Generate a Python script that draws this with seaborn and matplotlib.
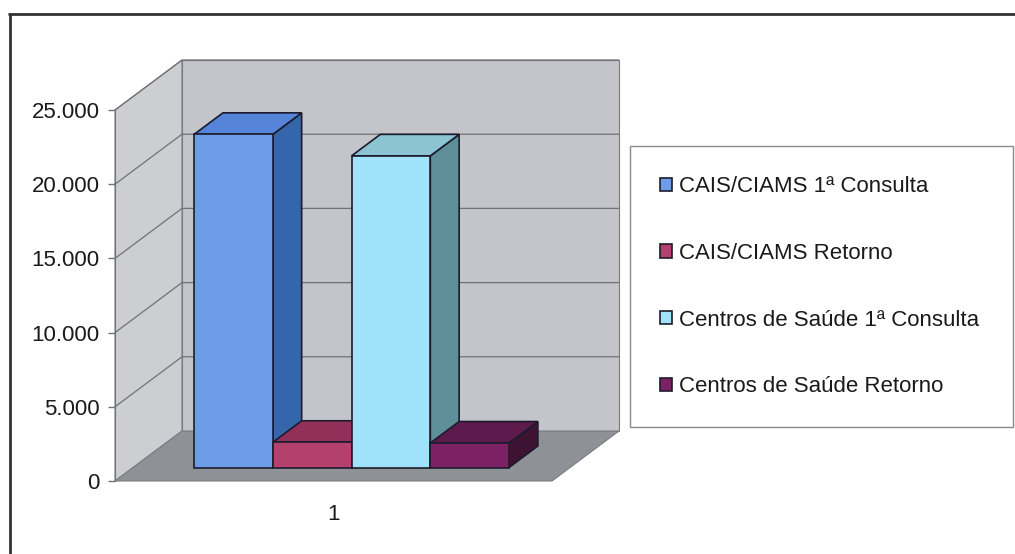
import pandas as pd
import matplotlib.pyplot as plt
import matplotlib.transforms as mtransforms
from matplotlib.patches import Polygon
from matplotlib.lines import Line2D
from matplotlib.ticker import FuncFormatter
import seaborn as sns

# data
series = ["CAIS/CIAMS 1ª Consulta", "CAIS/CIAMS Retorno",
          "Centros de Saúde 1ª Consulta", "Centros de Saúde Retorno"]
values = [22450, 1700, 21000, 1650]
group = ["1", "1", "1", "1"]
y_ticks = [0, 5000, 10000, 15000, 20000, 25000]

front_colors = ["#6d9de8", "#b4406e", "#a0e2fa", "#7c2264"]
top_colors = ["#5584d8", "#92305a", "#8cc4d4", "#5e1a4c"]
side_colors = ["#3565aa", "#6e2040", "#5f8f98", "#3e1232"]

df = pd.DataFrame({"grupo": group, "serie": series, "valor": values})

sns.set_style("white")
plt.rcParams['font.family'] = ['Liberation Sans', 'DejaVu Sans']

fig = plt.figure(figsize=(10.15, 5.54), dpi=100)
ax = fig.add_axes([115 / 1015, 1 - 481 / 554, 437 / 1015, 371 / 554])

sns.barplot(data=df, x="grupo", y="valor", hue="serie", hue_order=series,
            palette=front_colors, width=0.8, edgecolor="#1c1c2c",
            linewidth=1.2, saturation=1, ax=ax)

ax.set_xlim(-0.555, 0.555)
ax.set_ylim(0, 25000)

# depth vector (pixels) converted to data units
p0 = ax.transData.transform((0, 0))
p1 = ax.transData.transform((1, 1))
sx, sy = p1[0] - p0[0], p1[1] - p0[1]
DX, DY = 67 / sx, 50 / sy
x0, x1 = ax.get_xlim()
top = ax.get_ylim()[1]

# walls and floor
wall_kw = dict(edgecolor="#7a7c80", linewidth=0.8, clip_on=False)
ax.add_patch(Polygon([(x0, 0), (x0, top), (x0 + DX, top + DY), (x0 + DX, DY)],
                     facecolor="#cdced2", zorder=0.5, **wall_kw))
ax.add_patch(Polygon([(x0 + DX, DY), (x0 + DX, top + DY), (x1 + DX, top + DY), (x1 + DX, DY)],
                     facecolor="#c3c5cb", zorder=0.5, **wall_kw))
ax.add_patch(Polygon([(x0, 0), (x1, 0), (x1 + DX, DY), (x0 + DX, DY)],
                     facecolor="#8e9296", zorder=0.6, **wall_kw))

for v in y_ticks[1:]:
    ax.plot([x0, x0 + DX, x1 + DX], [v, v + DY, v + DY], color="#6f7175",
            lw=0.9, zorder=0.7, clip_on=False)

# give the bars depth
tf, tb = 0.27, 0.43
off = mtransforms.Affine2D().translate(tf * DX, tf * DY) + ax.transData
bx, by = tb * DX, tb * DY
for i, bar in enumerate(ax.patches[:len(series)]):
    x, w, h = bar.get_x(), bar.get_width(), bar.get_height()
    fx, fy = x + tf * DX, tf * DY
    z = 2 + i * 0.1
    ax.add_patch(Polygon([(fx + w, fy), (fx + w, fy + h), (fx + w + bx, fy + h + by), (fx + w + bx, fy + by)],
                         facecolor=side_colors[i], edgecolor="#1c1c2c", lw=1.2, zorder=z, clip_on=False))
    ax.add_patch(Polygon([(fx, fy + h), (fx + w, fy + h), (fx + w + bx, fy + h + by), (fx + bx, fy + h + by)],
                         facecolor=top_colors[i], edgecolor="#1c1c2c", lw=1.2, zorder=z + 0.01, clip_on=False))
    bar.set_transform(off)
    bar.set_zorder(z + 0.02)
    bar.set_clip_on(False)

# axes styling
for s in ["top", "right", "bottom"]:
    ax.spines[s].set_visible(False)
ax.spines["left"].set_color("#6f7175")
ax.spines["left"].set_zorder(3)
ax.set_yticks(y_ticks)
ax.yaxis.set_major_formatter(FuncFormatter(lambda v, p: f"{v:,.0f}".replace(",", ".")))
ax.tick_params(axis="y", left=True, length=5, width=1, color="#6f7175", pad=6,
               labelsize=16, labelcolor="#1a1a1a")
ax.tick_params(axis="x", bottom=False, pad=13, labelsize=16, labelcolor="#1a1a1a")
ax.set_xlabel("")
ax.set_ylabel("")
ax.set_facecolor("none")

# legend
handles, labels = ax.get_legend_handles_labels()
leg = ax.legend(handles, labels, loc="upper left",
                bbox_to_anchor=(630 / 1015, 1 - 152 / 554, 383 / 1015, 0.01),
                bbox_transform=fig.transFigure, mode="expand",
                fontsize=16, frameon=True, fancybox=False, edgecolor="#8a8a8a",
                framealpha=1, labelspacing=2.05, handlelength=0.55, handleheight=0.55,
                handletextpad=0.3, borderpad=1.35, borderaxespad=0)
leg.get_frame().set_linewidth(1)
for t in leg.get_texts():
    t.set_color("#1a1a1a")

# outer border
fig.add_artist(Line2D([9 / 1015, 1], [1 - 14 / 554] * 2, color="#333333", lw=2))
fig.add_artist(Line2D([10 / 1015] * 2, [0, 1 - 14 / 554], color="#333333", lw=2))

plt.savefig("out.png", dpi=100)
